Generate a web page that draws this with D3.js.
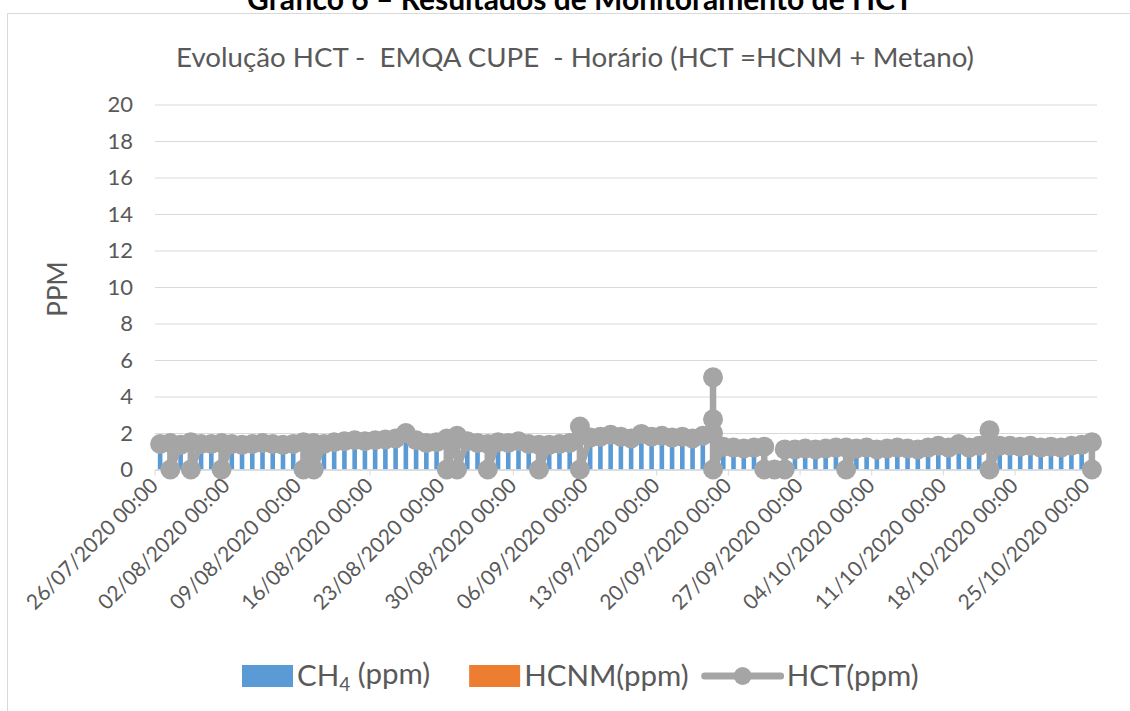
<!DOCTYPE html>
<html>
<head>
<meta charset="utf-8">
<script src="https://cdn.jsdelivr.net/npm/d3@7"></script>
<style>
  body { margin: 0; background: #fff; }
  svg text { font-family: Lato, "Open Sans", sans-serif; fill: #595959; }
</style>
</head>
<body>
<div id="chart"></div>
<script>
// daily categories 26/07/2020 .. 25/10/2020
const firstDay = new Date(2020, 6, 26);
const lastDay = new Date(2020, 9, 25);

const tickLabels = [
  '26/07/2020 00:00', '02/08/2020 00:00', '09/08/2020 00:00', '16/08/2020 00:00',
  '23/08/2020 00:00', '30/08/2020 00:00', '06/09/2020 00:00', '13/09/2020 00:00',
  '20/09/2020 00:00', '27/09/2020 00:00', '04/10/2020 00:00', '11/10/2020 00:00',
  '18/10/2020 00:00', '25/10/2020 00:00'
];
const yTicks = [0, 2, 4, 6, 8, 10, 12, 14, 16, 18, 20];

// CH4 (ppm) per day
const ch4 = [
  1.3, 1.35, 1.25, 1.4, 1.3, 1.3, 1.35,
  1.3, 1.25, 1.3, 1.35, 1.3, 1.25, 1.3,
  1.4, 1.35, 1.3, 1.4, 1.45, 1.5, 1.45,
  1.5, 1.55, 1.6, 1.9, 1.5, 1.35, 1.4,
  1.6, 1.75, 1.45, 1.35, 1.3, 1.4, 1.35,
  1.45, 1.3, 1.25, 1.25, 1.3, 1.35, 2.2,
  1.65, 1.7, 1.8, 1.7, 1.6, 1.85, 1.7,
  1.75, 1.65, 1.7, 1.6, 1.75, 1.9, 1.15,
  1.1, 1.05, 1.1, 1.15, 0, 1.0, 1.0,
  1.05, 1.0, 1.05, 1.1, 1.1, 1.05, 1.1,
  1.0, 1.05, 1.1, 1.05, 1.0, 1.1, 1.2,
  1.1, 1.3, 1.1, 1.2, 2.05, 1.2, 1.2,
  1.15, 1.2, 1.1, 1.15, 1.1, 1.2, 1.25,
  1.4
];

// HCNM (ppm) per day
const hcnm = [
  0.1, 0.1, 0.1, 0.1, 0.1, 0.1, 0.1,
  0.1, 0.1, 0.1, 0.1, 0.1, 0.1, 0.1,
  0.1, 0.1, 0.1, 0.1, 0.1, 0.1, 0.1,
  0.1, 0.1, 0.1, 0.1, 0.1, 0.1, 0.1,
  0.1, 0.1, 0.1, 0.1, 0.1, 0.1, 0.1,
  0.1, 0.1, 0.1, 0.1, 0.1, 0.1, 0.15,
  0.1, 0.1, 0.1, 0.1, 0.1, 0.1, 0.1,
  0.1, 0.1, 0.1, 0.1, 0.1, 0.1, 0.1,
  0.1, 0.1, 0.1, 0.1, 0, 0.1, 0.1,
  0.1, 0.1, 0.1, 0.1, 0.1, 0.1, 0.1,
  0.1, 0.1, 0.1, 0.1, 0.1, 0.1, 0.1,
  0.1, 0.1, 0.1, 0.1, 0.1, 0.1, 0.1,
  0.1, 0.1, 0.1, 0.1, 0.1, 0.1, 0.1,
  0.1
];

// HCT (ppm) readings per day, in plotting order (0 = missing hours)
const hctReadings = [
  [1.4], [1.45, 0], [1.35], [1.5, 0], [1.4], [1.4], [1.45, 0],
  [1.4], [1.35], [1.4], [1.45], [1.4], [1.35], [1.4],
  [1.5, 0], [1.45, 0], [1.4], [1.5], [1.55], [1.6], [1.55],
  [1.6], [1.65], [1.7], [2.0], [1.6], [1.45], [1.5],
  [1.7, 0], [1.85, 0], [1.55], [1.45], [1.4, 0], [1.5], [1.45],
  [1.55], [1.4], [1.35, 0], [1.35], [1.4], [1.45], [2.35, 0],
  [1.75], [1.8], [1.9], [1.8], [1.7], [1.95], [1.8],
  [1.85], [1.75], [1.8], [1.7], [1.85], [2.0, 5.05, 2.75, 0], [1.25],
  [1.2], [1.15], [1.2], [1.25, 0], [0], [0, 1.1], [1.1],
  [1.15], [1.1], [1.15], [1.2], [1.2, 0], [1.15], [1.2],
  [1.1], [1.15], [1.2], [1.15], [1.1], [1.2], [1.3],
  [1.2], [1.4], [1.2], [1.3], [2.15, 0], [1.3], [1.3],
  [1.25], [1.3], [1.2], [1.25], [1.2], [1.3], [1.35],
  [1.5, 0]
];

const colors = {
  ch4: '#5B9BD5',
  hcnm: '#ED7D31',
  hct: '#A5A5A5',
  grid: '#D9D9D9',
  text: '#595959'
};

const W = 1130, H = 711;
const plot = {left: 155, right: 1097, top: 104.5, bottom: 469.5};

const svg = d3.select('#chart')
  .append('svg')
  .attr('width', W)
  .attr('height', H);

// chart frame
svg.append('rect')
  .attr('x', 7.5)
  .attr('y', 13.5)
  .attr('width', 1200)
  .attr('height', 1000)
  .attr('fill', '#fff')
  .attr('stroke', colors.grid);

// caption above the chart (cut off at the top in the source)
svg.append('text')
  .attr('x', 580)
  .attr('y', 10)
  .attr('text-anchor', 'middle')
  .style('font-size', '30px')
  .style('font-weight', 'bold')
  .style('fill', '#000')
  .text('Gráfico 6 – Resultados de Monitoramento de HCT');

const parse = d3.timeParse('%d/%m/%Y %H:%M');
const days = d3.timeDay.range(firstDay, d3.timeDay.offset(lastDay, 1));
const keys = days.map(d => +d);

const x = d3.scaleBand()
  .domain(keys)
  .range([plot.left, plot.right])
  .padding(0);
const bw = x.bandwidth();

const y = d3.scaleLinear()
  .domain([0, 20])
  .range([plot.bottom, plot.top]);

// y axis with gridlines
const yAxis = svg.append('g')
  .attr('transform', `translate(${plot.left},0)`)
  .call(d3.axisLeft(y).tickValues(yTicks).tickSize(-(plot.right - plot.left)).tickPadding(22));
yAxis.select('.domain').remove();
yAxis.selectAll('line').attr('stroke', colors.grid);
yAxis.selectAll('text')
  .style('font-size', '22px')
  .style('fill', colors.text);

// stacked bars: CH4 then HCNM
const barW = bw * 0.45;
const rows = keys.map((k, i) => ({key: k, ch4: ch4[i], hcnm: hcnm[i]}));

svg.append('g')
  .selectAll('rect')
  .data(rows)
  .join('rect')
  .attr('x', d => x(d.key) + (bw - barW) / 2)
  .attr('y', d => y(d.ch4))
  .attr('width', barW)
  .attr('height', d => y(0) - y(d.ch4))
  .attr('fill', colors.ch4);

svg.append('g')
  .selectAll('rect')
  .data(rows)
  .join('rect')
  .attr('x', d => x(d.key) + (bw - barW) / 2)
  .attr('y', d => y(d.ch4 + d.hcnm))
  .attr('width', barW)
  .attr('height', d => y(d.ch4) - y(d.ch4 + d.hcnm))
  .attr('fill', colors.hcnm);

// x axis
const tickKeys = tickLabels.map(t => +parse(t));
const xAxis = svg.append('g')
  .attr('transform', `translate(0,${plot.bottom})`)
  .call(d3.axisBottom(x).tickValues(tickKeys).tickSize(6).tickSizeOuter(0)
    .tickFormat((d, i) => tickLabels[i]));
xAxis.select('.domain').attr('stroke', colors.grid).attr('stroke-width', 1.3);
xAxis.selectAll('line')
  .attr('stroke', colors.grid)
  .attr('x1', -bw / 2)
  .attr('x2', -bw / 2);
xAxis.selectAll('text')
  .attr('text-anchor', 'end')
  .attr('transform', 'translate(-13,5) rotate(-45)')
  .attr('dy', '0.35em')
  .attr('y', 10)
  .attr('x', 0)
  .style('font-size', '21px')
  .style('fill', colors.text);

// HCT line with markers
const points = [];
hctReadings.forEach((vals, i) => vals.forEach(v => points.push({key: keys[i], v})));

const line = d3.line()
  .x(d => x(d.key) + bw / 2)
  .y(d => y(d.v));

svg.append('path')
  .datum(points)
  .attr('d', line)
  .attr('fill', 'none')
  .attr('stroke', colors.hct)
  .attr('stroke-width', 6.5)
  .attr('stroke-linejoin', 'round');

svg.append('g')
  .selectAll('circle')
  .data(points)
  .join('circle')
  .attr('cx', d => x(d.key) + bw / 2)
  .attr('cy', d => y(d.v))
  .attr('r', 10)
  .attr('fill', colors.hct);

// chart title
svg.append('text')
  .attr('x', 575)
  .attr('y', 67)
  .attr('text-anchor', 'middle')
  .style('font-size', '27.7px')
  .style('fill', colors.text)
  .style('white-space', 'pre')
  .text('Evolução HCT -  EMQA CUPE  - Horário (HCT =HCNM + Metano)');

// y axis title
svg.append('text')
  .attr('transform', `translate(67,${(plot.top + plot.bottom) / 2 + 2}) rotate(-90)`)
  .attr('text-anchor', 'middle')
  .style('font-size', '26px')
  .style('fill', colors.text)
  .text('PPM');

// legend
const legend = svg.append('g').attr('transform', 'translate(242,676)');
const legendItems = [
  {kind: 'rect', color: colors.ch4, label: ['CH', '4', ' (ppm)']},
  {kind: 'rect', color: colors.hcnm, label: ['HCNM(ppm)']},
  {kind: 'line', color: colors.hct, label: ['HCT(ppm)']}
];
let lx = 0;
legendItems.forEach(item => {
  if (item.kind === 'rect') {
    legend.append('rect')
      .attr('x', lx).attr('y', -11)
      .attr('width', 51).attr('height', 22)
      .attr('fill', item.color);
    lx += 55;
  } else {
    lx -= 27; // line symbols sit closer to the previous entry
    legend.append('line')
      .attr('x1', lx + 4).attr('x2', lx + 80)
      .attr('stroke', item.color).attr('stroke-width', 7)
      .attr('stroke-linecap', 'round');
    legend.append('circle')
      .attr('cx', lx + 42).attr('r', 9)
      .attr('fill', item.color);
    lx += 86;
  }
  const t = legend.append('text')
    .attr('x', lx)
    .attr('dy', '0.35em')
    .style('font-size', '29.5px')
    .style('fill', colors.text);
  t.append('tspan').text(item.label[0]);
  if (item.label.length > 1) {
    t.append('tspan').attr('dy', '0.25em').style('font-size', '19px').text(item.label[1]);
    t.append('tspan').attr('dy', '-0.25em').text(item.label[2]);
  }
  lx += t.node().getComputedTextLength() + 39;
});
</script>
</body>
</html>
